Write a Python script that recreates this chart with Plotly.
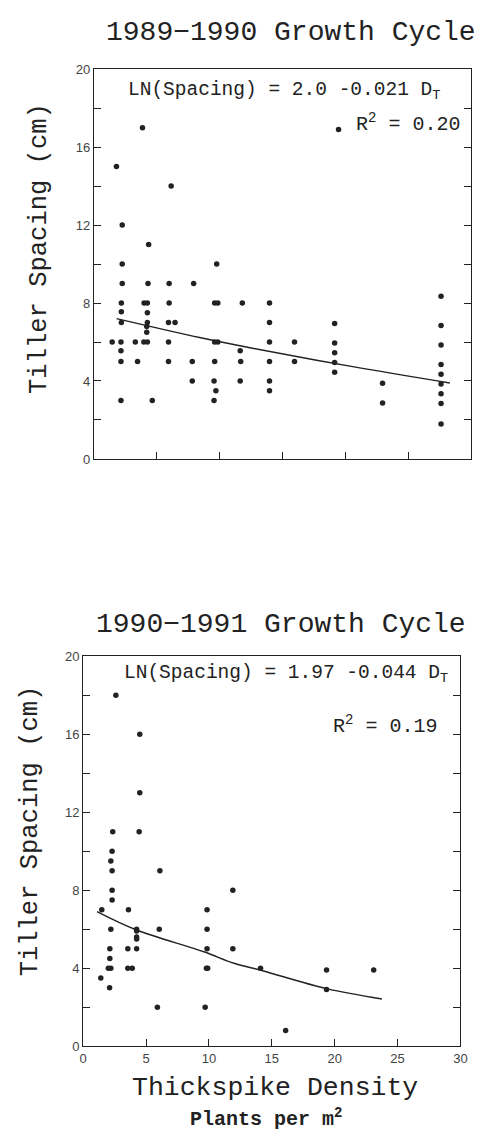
import plotly.graph_objects as go

W, H = 488, 1137

# ---------------- data: 1989-1990 growth cycle (top panel) ----------------
top_density = [1.45, 1.79, 2.15, 2.15, 2.15, 2.15, 2.18, 2.18, 2.18, 2.25, 2.25, 2.25,
               3.29, 3.47, 3.86, 3.97, 3.99, 4.2, 4.2, 4.25, 4.25, 4.25, 4.25, 4.3, 4.35, 4.64,
               5.93, 5.93, 5.93, 5.98, 5.98, 6.14, 6.45, 7.82, 7.82, 7.93,
               9.55, 9.55, 9.6, 9.6, 9.6, 9.7, 9.76, 9.85, 9.85,
               11.63, 11.63, 11.67, 11.8,
               13.96, 13.96, 13.96, 13.96, 13.96, 13.96, 15.95, 15.95,
               19.14, 19.14, 19.14, 19.14, 19.14, 19.45, 22.95, 22.95,
               27.6, 27.6, 27.6, 27.6, 27.6, 27.6, 27.6, 27.6, 27.6]
top_spacing = [6, 15, 3, 5, 5.55, 6, 7, 7.55, 8, 9, 10, 12,
               6, 5, 17, 6, 8, 6.5, 6.8, 6, 7, 7.5, 8, 9, 11, 3,
               5, 6, 7, 8, 9, 14, 7, 4, 5, 9,
               3, 4, 5, 6, 8, 3.5, 10, 6, 8,
               4, 5.55, 5, 8,
               3.5, 4, 5, 6, 7, 8, 5, 6,
               4.45, 4.95, 5.45, 5.95, 6.95, 16.9, 2.87, 3.88,
               1.8, 2.85, 3.35, 3.85, 4.35, 4.85, 5.85, 6.85, 8.35]
top_fit_density = [1.8, 8.4, 12.7, 20.8, 28.3]
top_fit_spacing = [7.2, 6.23, 5.67, 4.71, 3.9]

# ---------------- data: 1990-1991 growth cycle (bottom panel) ----------------
bot_density = [1.4, 1.48, 2.0, 2.12, 2.12, 2.1, 2.2, 2.2, 2.2, 2.3, 2.3, 2.3, 2.3, 2.35, 2.6,
               3.6, 3.55, 3.55, 3.9, 4.25, 4.25, 4.25, 4.25, 4.25, 4.45, 4.5, 4.5,
               5.9, 6.05, 6.1, 9.7, 9.85, 9.85, 9.85, 9.8, 9.9,
               11.9, 11.9, 14.1, 16.1, 19.35, 19.35, 23.1]
bot_spacing = [3.5, 7, 4, 5, 4.5, 3, 4, 6, 9.5, 10, 9, 8, 7.5, 11, 18,
               7, 5, 4, 4, 6, 5.9, 5.6, 5.5, 5, 11, 13, 16,
               2, 6, 9, 2, 7, 6, 5, 4, 4,
               8, 5, 4, 0.8, 3.9, 2.9, 3.9]
bot_fit_density = [1.1, 4.2, 9.6, 12.0, 14.2, 19.35, 23.75]
bot_fit_spacing = [6.9, 5.97, 4.84, 4.25, 3.88, 2.95, 2.42]

# ---------------- tick labels ----------------
y_tick_vals = [0, 4, 8, 12, 16, 20]
y_tick_text = ["0", "4", "8", "12", "16", "20"]
x_tick_vals = [0, 5, 10, 15, 20, 25, 30]
x_tick_text = ["0", "5", "10", "15", "20", "25", "30"]


def px(x):
    return x / W


def py(y):
    return 1 - y / H


INK = "#222222"
MONO = "Liberation Mono"
TICKFONT = dict(family="Liberation Sans", size=13, color="#444444")

fig = go.Figure()

marker = dict(color=INK, size=5.5)
fig.add_trace(go.Scatter(x=top_density, y=top_spacing, mode="markers", marker=marker,
                         xaxis="x", yaxis="y", showlegend=False))
fig.add_trace(go.Scatter(x=top_fit_density, y=top_fit_spacing, mode="lines",
                         line=dict(color=INK, width=1.4, shape="spline"),
                         xaxis="x", yaxis="y", showlegend=False))
fig.add_trace(go.Scatter(x=bot_density, y=bot_spacing, mode="markers", marker=marker,
                         xaxis="x2", yaxis="y2", showlegend=False))
fig.add_trace(go.Scatter(x=bot_fit_density, y=bot_fit_spacing, mode="lines",
                         line=dict(color=INK, width=1.4, shape="spline"),
                         xaxis="x2", yaxis="y2", showlegend=False))

xcommon = dict(range=[0, 30], tickvals=x_tick_vals, ticktext=x_tick_text,
               ticks="inside", ticklen=7,
               tickcolor=INK, showline=True, linecolor=INK, linewidth=1.2, mirror=True,
               showgrid=False, zeroline=False, tickfont=TICKFONT)
ycommon = dict(range=[0, 20], tickvals=y_tick_vals, ticktext=y_tick_text, ticks="inside",
               ticklen=7, tickcolor=INK, showline=True, linecolor=INK, linewidth=1.2,
               mirror="ticks", showgrid=False, zeroline=False, tickfont=TICKFONT,
               minor=dict(ticks="inside", ticklen=7, dtick=2, tick0=0, tickcolor=INK,
                          showgrid=False))

fig.update_layout(
    width=W, height=H,
    margin=dict(l=0, r=0, t=0, b=0),
    paper_bgcolor="white", plot_bgcolor="white",
    xaxis=dict(domain=[px(92), px(478)], anchor="y", showticklabels=False, **xcommon),
    yaxis=dict(domain=[py(458), py(63)], anchor="x", **ycommon),
    xaxis2=dict(domain=[px(81), px(467)], anchor="y2", **xcommon),
    yaxis2=dict(domain=[py(1053), py(658)], anchor="x2", **ycommon),
)

ann = [
    ("1989−1990 Growth Cycle", 294, 26, 28),
    ("Tiller Spacing (cm)", 37, 245, 25.5),
    ("LN(Spacing) = 2.0 -0.021 D<sub>T</sub>", 286, 85, 19.5),
    ("R<sup>2</sup> = 0.20", 413, 118, 20),
    ("1990−1991 Growth Cycle", 283, 626, 28),
    ("Tiller Spacing (cm)", 28, 835, 25.5),
    ("LN(Spacing) = 1.97 -0.044 D<sub>T</sub>", 289, 676, 19.5),
    ("R<sup>2</sup> = 0.19", 390, 728, 20),
    ("Thickspike Density", 277, 1095, 26.5),
    ("<b>Plants per m<sup>2</sup></b>", 268, 1126, 20),
]
for text, x, y, size in ann:
    angle = -90 if text.startswith("Tiller") else 0
    fig.add_annotation(text=text, x=px(x), y=py(y), xref="paper", yref="paper",
                       xanchor="center", yanchor="middle", showarrow=False,
                       textangle=angle, font=dict(family=MONO, size=size, color=INK))

fig.write_html(
    "out.html",
    config={"displayModeBar": False},
    post_script="document.body.style.margin='0';document.body.style.overflow='hidden';",
)
